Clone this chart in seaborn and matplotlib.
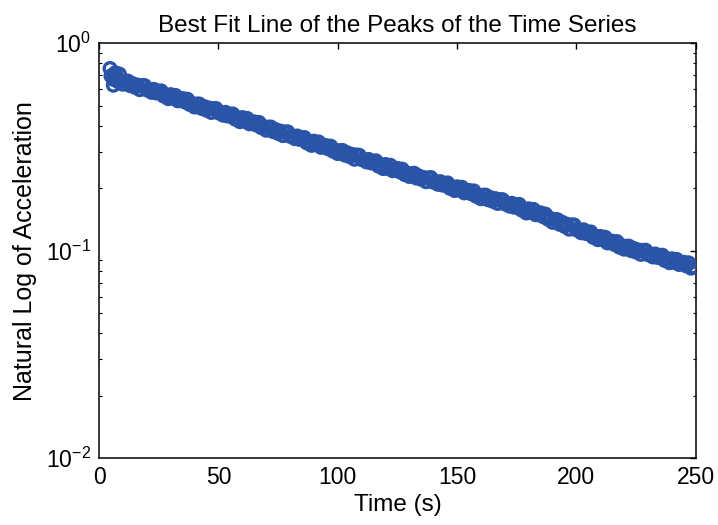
"""
    Peaks of the acceleration time series on a log axis
"""

#===== LIBRARIES =====================================
import matplotlib
matplotlib.use("Agg")
from matplotlib import pyplot as plt
import seaborn as sns

#===== DATA ==========================================
# time of each peak (s)
time_s = [
    4.6, 6.0, 6.8, 8.5,
    5, 6, 7, 8, 9, 10, 11, 12, 13, 14,
    15, 16, 17, 18, 19, 20, 21, 22, 23, 24,
    25, 26, 27, 28, 29, 30, 31, 32, 33, 34,
    35, 36, 37, 38, 39, 40, 41, 42, 43, 44,
    45, 46, 47, 48, 49, 50, 51, 52, 53, 54,
    55, 56, 57, 58, 59, 60, 61, 62, 63, 64,
    65, 66, 67, 68, 69, 70, 71, 72, 73, 74,
    75, 76, 77, 78, 79, 80, 81, 82, 83, 84,
    85, 86, 87, 88, 89, 90, 91, 92, 93, 94,
    95, 96, 97, 98, 99, 100, 101, 102, 103, 104,
    105, 106, 107, 108, 109, 110, 111, 112, 113, 114,
    115, 116, 117, 118, 119, 120, 121, 122, 123, 124,
    125, 126, 127, 128, 129, 130, 131, 132, 133, 134,
    135, 136, 137, 138, 139, 140, 141, 142, 143, 144,
    145, 146, 147, 148, 149, 150, 151, 152, 153, 154,
    155, 156, 157, 158, 159, 160, 161, 162, 163, 164,
    165, 166, 167, 168, 169, 170, 171, 172, 173, 174,
    175, 176, 177, 178, 179, 180, 181, 182, 183, 184,
    185, 186, 187, 188, 189, 190, 191, 192, 193, 194,
    195, 196, 197, 198, 199, 200, 201, 202, 203, 204,
    205, 206, 207, 208, 209, 210, 211, 212, 213, 214,
    215, 216, 217, 218, 219, 220, 221, 222, 223, 224,
    225, 226, 227, 228, 229, 230, 231, 232, 233, 234,
    235, 236, 237, 238, 239, 240, 241, 242, 243, 244,
    245, 246, 247, 248, 249,
]

# peak acceleration at each of those times
peak_acc = [
    0.755, 0.628, 0.720, 0.710,
    0.696, 0.670, 0.691, 0.653, 0.660, 0.635, 0.655, 0.657, 0.625, 0.639,
    0.614, 0.628, 0.598, 0.624, 0.625, 0.596, 0.597, 0.580, 0.599, 0.576,
    0.583, 0.589, 0.557, 0.563, 0.541, 0.565, 0.544, 0.560, 0.528, 0.535,
    0.541, 0.521, 0.537, 0.507, 0.512, 0.493, 0.509, 0.509, 0.485, 0.495,
    0.476, 0.487, 0.464, 0.483, 0.484, 0.462, 0.463, 0.450, 0.464, 0.446,
    0.451, 0.456, 0.431, 0.436, 0.419, 0.438, 0.421, 0.434, 0.409, 0.414,
    0.418, 0.403, 0.415, 0.392, 0.396, 0.381, 0.394, 0.394, 0.375, 0.383,
    0.368, 0.377, 0.359, 0.373, 0.374, 0.356, 0.357, 0.347, 0.357, 0.344,
    0.347, 0.351, 0.331, 0.335, 0.322, 0.337, 0.324, 0.334, 0.315, 0.318,
    0.321, 0.310, 0.319, 0.302, 0.305, 0.294, 0.303, 0.304, 0.289, 0.296,
    0.284, 0.291, 0.276, 0.289, 0.288, 0.275, 0.275, 0.268, 0.275, 0.265,
    0.268, 0.271, 0.256, 0.259, 0.249, 0.260, 0.249, 0.258, 0.243, 0.246,
    0.249, 0.240, 0.247, 0.233, 0.236, 0.228, 0.235, 0.236, 0.224, 0.229,
    0.221, 0.225, 0.215, 0.224, 0.225, 0.214, 0.215, 0.209, 0.215, 0.207,
    0.210, 0.212, 0.200, 0.2025, 0.195, 0.203, 0.196, 0.202, 0.190, 0.193,
    0.195, 0.188, 0.194, 0.183, 0.185, 0.178, 0.185, 0.185, 0.176, 0.180,
    0.173, 0.178, 0.169, 0.176, 0.176, 0.168, 0.169, 0.164, 0.169, 0.162,
    0.165, 0.167, 0.157, 0.159, 0.152, 0.159, 0.153, 0.158, 0.149, 0.150,
    0.152, 0.146, 0.150, 0.142, 0.143, 0.137, 0.141, 0.141, 0.134, 0.137,
    0.131, 0.134, 0.127, 0.133, 0.133, 0.126, 0.126, 0.122, 0.126, 0.121,
    0.122, 0.123, 0.116, 0.117, 0.113, 0.117, 0.113, 0.116, 0.109, 0.110,
    0.111, 0.107, 0.1105, 0.104, 0.1056, 0.1017, 0.105, 0.105, 0.100, 0.1024,
    0.0985, 0.1007, 0.0960, 0.1002, 0.1004, 0.0957, 0.0959, 0.0933, 0.0963, 0.0928,
    0.0938, 0.0950, 0.0897, 0.0909, 0.0875, 0.0913, 0.0879, 0.0907, 0.0858, 0.0868,
    0.0878, 0.0845, 0.0873, 0.0824, 0.0835,
]

x_ticks = [0, 50, 100, 150, 200, 250]

#===== PLOT ==========================================
sns.set_style("white")
plt.rcParams["font.family"] = ["Liberation Sans", "DejaVu Sans"]
plt.rcParams["mathtext.default"] = "regular"
plt.rcParams["text.color"] = "black"
plt.rcParams["axes.labelcolor"] = "black"
plt.rcParams["xtick.color"] = "black"
plt.rcParams["ytick.color"] = "black"

blue = "#2a54a8"
red = "#ff2020"

fig = plt.figure(figsize=(7.18, 5.25), dpi=100)
ax = fig.add_axes([0.138, 0.1276, 0.831, 0.790])

# red dots underneath, blue open circles on top
sns.scatterplot(x=time_s, y=peak_acc, ax=ax, marker="o", s=6,
                color=red, linewidth=0, zorder=2)
sns.scatterplot(x=time_s, y=peak_acc, ax=ax, marker="o", s=72,
                facecolor="none", edgecolor=blue, linewidth=2.4, zorder=3)

ax.set_yscale("log")
ax.set_ylim(1e-2, 1e0)
ax.set_xlim(0, 250)
ax.set_xticks(x_ticks)

ax.set_title("Best Fit Line of the Peaks of the Time Series", fontsize=17.5, pad=8)
ax.set_xlabel("Time (s)", fontsize=17.5, labelpad=3)
ax.set_ylabel("Natural Log of Acceleration", fontsize=18, labelpad=6)

for side in ["top", "right", "bottom", "left"]:
    ax.spines[side].set_visible(True)
    ax.spines[side].set_color("black")
    ax.spines[side].set_linewidth(1.1)

ax.tick_params(axis="both", which="major", direction="in", top=True, right=True,
               length=4.5, width=1, labelsize=16.5, pad=6)
ax.tick_params(axis="y", which="minor", direction="in", left=True, right=True,
               length=2.5, width=0.8)

fig.savefig("out.png", dpi=100)
